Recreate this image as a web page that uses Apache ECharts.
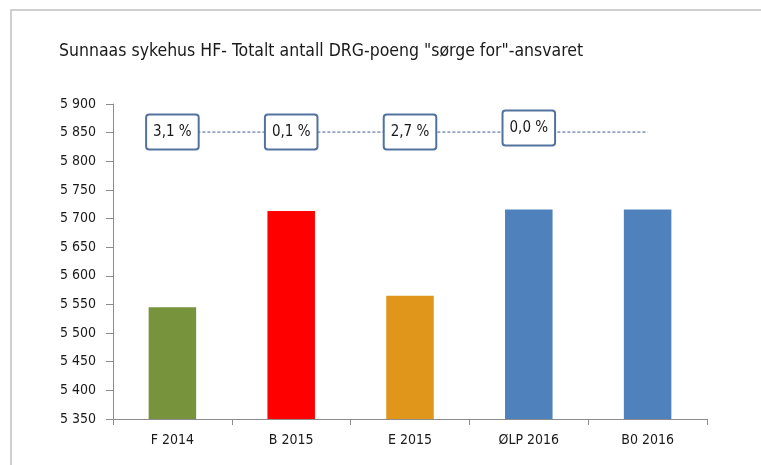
<!DOCTYPE html>
<html>
<head>
<meta charset="utf-8">
<script src="https://cdn.jsdelivr.net/npm/echarts@6/dist/echarts.min.js"></script>
<style>
  html, body { margin: 0; padding: 0; background: #fff; }
  #main { width: 761px; height: 465px; }
</style>
</head>
<body>
<div id="main"></div>
<script>
// data
var categories = ['F 2014', 'B 2015', 'E 2015', 'ØLP 2016', 'B0 2016'];
var drgPoints = [5545, 5713, 5565, 5716, 5716];
var barColors = ['#77933c', '#ff0000', '#e0961a', '#4f81bd', '#4f81bd'];
var changeLabels = ['3,1 %', '0,1 %', '2,7 %', '0,0 %', ''];
var refLevel = [5851, 5851, 5851, 5851, 5851];

var narrow = '"Liberation Sans Narrow", "DejaVu Sans Condensed", sans-serif';

var myChart = echarts.init(document.getElementById('main'));

var option = {
  backgroundColor: '#fff',
  animation: false,
  title: {
    text: 'Sunnaas sykehus HF- Totalt antall DRG-poeng "sørge for"-ansvaret',
    left: 54,
    top: 37,
    textStyle: { fontFamily: narrow, fontSize: 17.5, fontWeight: 'normal', color: '#1a1a1a' }
  },
  graphic: [{
    type: 'rect',
    shape: { x: 11, y: 10, width: 800, height: 500 },
    style: { fill: 'none', stroke: '#c0c0c0', lineWidth: 1.5 },
    silent: true
  }],
  grid: { left: 113, top: 104, right: 54, bottom: 46 },
  xAxis: {
    type: 'category',
    data: categories,
    axisLine: { lineStyle: { color: '#8c8c8c', width: 1 } },
    axisTick: { show: true, length: 6, lineStyle: { color: '#8c8c8c' } },
    axisLabel: { fontFamily: narrow, fontSize: 14, color: '#1a1a1a', margin: 14 }
  },
  yAxis: {
    type: 'value',
    min: 5350,
    max: 5900,
    interval: 50,
    axisLine: { show: true, lineStyle: { color: '#8c8c8c', width: 1 } },
    axisTick: { show: true, length: 7, lineStyle: { color: '#8c8c8c' } },
    splitLine: { show: false },
    axisLabel: {
      fontFamily: narrow, fontSize: 14, color: '#1a1a1a', margin: 17,
      formatter: function (v) { return String(v).replace(/\B(?=(\d{3})+(?!\d))/g, ' '); }
    }
  },
  series: [{
    type: 'bar',
    barWidth: '40%',
    data: drgPoints.map(function (v, i) {
      return { value: v, itemStyle: { color: barColors[i] } };
    })
  }, {
    type: 'line',
    symbol: 'circle',
    symbolSize: 2,
    showSymbol: true,
    itemStyle: { color: 'rgba(0,0,0,0)', borderWidth: 0 },
    lineStyle: { color: '#3d5f8c', width: 1, type: [3, 2] },
    data: refLevel.map(function (v, i) {
      return {
        value: v,
        label: {
          show: changeLabels[i] !== '',
          offset: [0, i === 3 ? -4 : 0]
        }
      };
    }),
    label: {
      show: true,
      position: 'inside',
      formatter: function (p) { return changeLabels[p.dataIndex]; },
      fontFamily: narrow,
      fontSize: 15,
      color: '#1a1a1a',
      backgroundColor: '#fff',
      borderColor: '#52729e',
      borderWidth: 2,
      borderRadius: 2,
      padding: [9, 6]
    },
    z: 5
  }]
};

myChart.setOption(option);
</script>
</body>
</html>
